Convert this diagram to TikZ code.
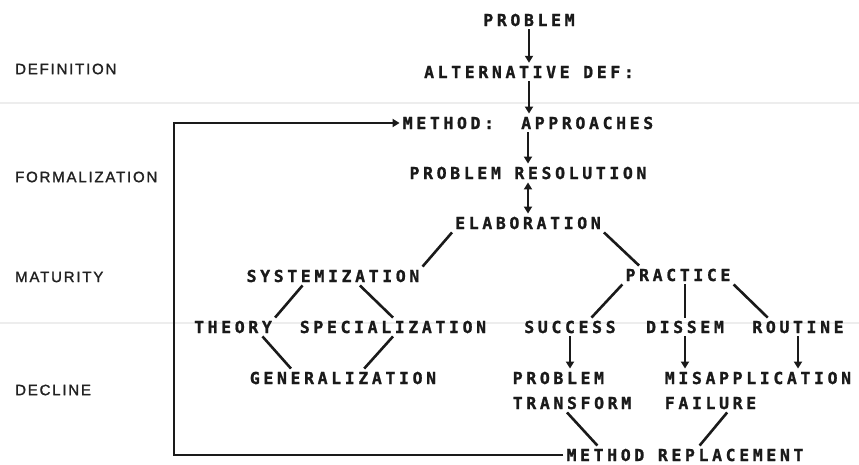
\documentclass[tikz,border=0pt]{standalone}
\usepackage{fontspec}
\usepackage{tikz}
\usetikzlibrary{arrows.meta,calc}
\newfontfamily\plotfont[LetterSpace=22,UprightFont={* Bold},FakeBold=1.2]{DejaVu Sans Mono}
\newfontfamily\stagefont[LetterSpace=12,FakeBold=1.6]{Liberation Sans}
\definecolor{inkc}{HTML}{1A1A1A}
\definecolor{stagec}{HTML}{222222}
\definecolor{scanc}{HTML}{EDEDED}

\begin{document}
\begin{tikzpicture}[x=1pt,y=-1pt,
  lbl/.style={font=\plotfont\fontsize{16.5}{25}\selectfont,
              text=inkc,inner sep=3pt},
  stage/.style={font=\stagefont\fontsize{15}{18}\selectfont,
                text=stagec,anchor=west,inner sep=0pt},
  ar/.style={-{Triangle[length=7pt,width=8pt]},line width=2.6pt,draw=inkc},
  ln/.style={line width=2.6pt,draw=inkc},
]
\useasboundingbox (0,0) rectangle (859,464);
\draw[scanc,line width=1.5pt] (0,103) -- (859,103);
\draw[scanc,line width=1.5pt] (0,323) -- (859,323);

% stages
\node[stage] (def) at (15,69) {DEFINITION};
\node[stage] (form) at (15,177) {FORMALIZATION};
\node[stage] (mat) at (15,277) {MATURITY};
\node[stage] (decl) at (15,390) {DECLINE};

% main chain
\node[lbl] (prob) at (529,20) {PROBLEM};
\node[lbl] (alt) at (529,72) {ALTERNATIVE DEF:};
\node[lbl] (meth) at (528,123) {METHOD:\ \ APPROACHES};
\node[lbl] (res) at (528,173) {PROBLEM RESOLUTION};
\node[lbl] (elab) at (528,223) {ELABORATION};

\draw[ar] (prob.south) -- (prob.south |- alt.north);
\draw[ar] (alt.south) -- (alt.south |- meth.north);
\draw[ar] (meth.south) -- (meth.south |- res.north);
\draw[{Triangle[length=7pt,width=8pt]}-{Triangle[length=7pt,width=8pt]},
      line width=2.6pt,draw=inkc] (res.south) -- (res.south |- elab.north);

% left branch
\node[lbl] (syst) at (333,276) {SYSTEMIZATION};
\node[lbl] (theo) at (233,327) {THEORY};
\node[lbl] (spec) at (393,327) {SPECIALIZATION};
\node[lbl] (gen) at (343,378) {GENERALIZATION};

\draw[ln] (elab.south west) -- (syst.north east);
\draw[ln] ($(syst.south west)!0.33!(syst.south east)$) -- (theo.north east);
\draw[ln] ($(syst.south west)!0.65!(syst.south east)$) -- (spec.north);
\draw[ln] ($(theo.south west)!0.85!(theo.south east)$)
  -- ($(gen.north west)!0.23!(gen.north east)$);
\draw[ln] (spec.south) -- ($(gen.north west)!0.61!(gen.north east)$);

% right branch
\node[lbl] (prac) at (678,275) {PRACTICE};
\node[lbl] (succ) at (570,327) {SUCCESS};
\node[lbl] (diss) at (685,327) {DISSEM};
\node[lbl] (rout) at (798,327) {ROUTINE};
\node[lbl,align=left] (ptr) at (572,390.5) {PROBLEM\\TRANSFORM};
\node[lbl,align=left] (mis) at (758,390.5) {MISAPPLICATION\\FAILURE};
\node[lbl] (mrep) at (685,455) {METHOD REPLACEMENT};

\draw[ln] (elab.south east) -- ($(prac.north west)!0.15!(prac.north east)$);
\draw[ln] (prac.south west) -- ($(succ.north west)!0.72!(succ.north east)$);
\draw[ln] (diss.north |- prac.south) -- (diss.north);
\draw[ln] (prac.south east) -- ($(rout.north west)!0.19!(rout.north east)$);
\draw[ar] (succ.south) -- (succ.south |- ptr.north);
\draw[ar] (diss.south) -- (diss.south |- mis.north);
\draw[ar] (rout.south) -- (rout.south |- mis.north);
\draw[ln] ($(ptr.south west)!0.46!(ptr.south east)$)
  -- ($(mrep.north west)!0.14!(mrep.north east)$);
\draw[ln] ($(mis.south west)!0.34!(mis.south east)$)
  -- ($(mrep.north west)!0.56!(mrep.north east)$);

% back to method
\coordinate (back) at (174,455);
\draw[ar] (mrep.west) -- (back) |- (meth.west);
\end{tikzpicture}
\end{document}
